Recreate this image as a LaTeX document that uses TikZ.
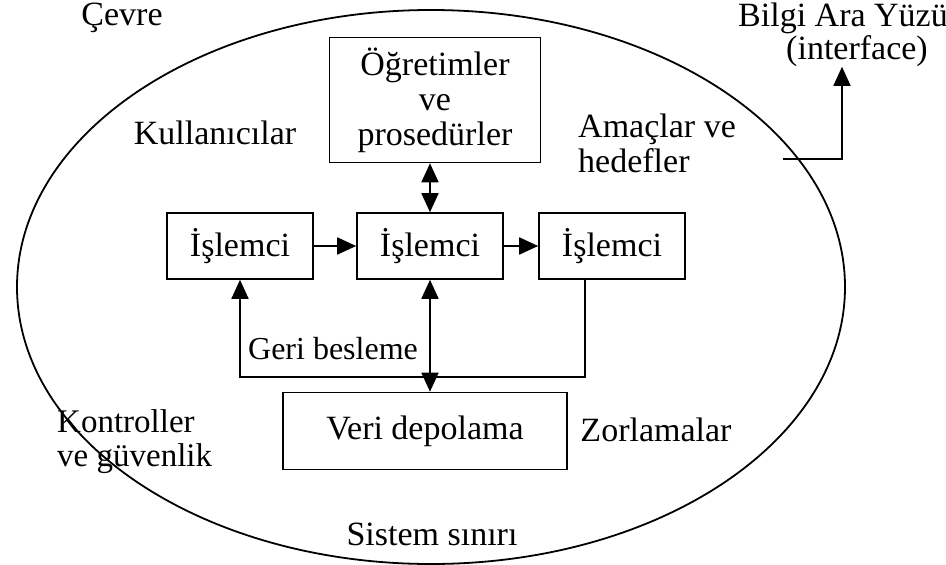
\documentclass[tikz,border=0pt]{standalone}
\usepackage{fontspec}
\setmainfont{Liberation Serif}
\usetikzlibrary{arrows.meta}
\begin{document}
\begin{tikzpicture}[x=1pt,y=-1pt,
  every node/.style={font=\fontsize{34}{35}\selectfont, inner sep=0pt},
  box/.style={draw, line width=1.6pt},
  lbl/.style={align=left},
  conn/.style={line width=1.8pt},
  tip/.style={-{Triangle[length=19pt,width=17pt]}},
  dtip/.style={{Triangle[length=19pt,width=17pt]}-{Triangle[length=19pt,width=17pt]}}]
\useasboundingbox (0,0) rectangle (946,565);

% system boundary
\draw[line width=1.8pt] (431,287) ellipse [x radius=414, y radius=277];

% free labels
\node (cevre) at (122,18) {Çevre};
\node (bilgi) at (843,18) {Bilgi Ara Yüzü};
\node (iface) at (857,51) {(interface)};
\node (kull) at (215,133) {Kullanıcılar};
\node[lbl, anchor=west] (amac) at (578,143) {Amaçlar ve\\hedefler};
\node[font=\fontsize{32}{34}\selectfont] (geri) at (333,349) {Geri besleme};
\node[lbl, anchor=west, font=\fontsize{33}{34}\selectfont] (kont) at (57,442) {Kontroller\\ve güvenlik};
\node (zorl) at (656,430) {Zorlamalar};
\node (sinir) at (432,534) {Sistem sınırı};

% boxes
\node[box, minimum width=211pt, minimum height=125pt, align=center] (ogr) at (435,100)
  {Öğretimler\\ve\\prosedürler};
\node[box, minimum width=146pt, minimum height=66pt] (p1) at (240,246) {İşlemci};
\node[box, minimum width=146pt, minimum height=66pt] (p2) at (430,246) {İşlemci};
\node[box, minimum width=146pt, minimum height=66pt] (p3) at (612,246) {İşlemci};
\node[box, minimum width=284pt, minimum height=77pt] (veri) at (425,431) {Veri depolama};

% connectors
\draw[conn, dtip] (ogr.south -| p2) -- (p2.north);
\draw[conn, tip] (p1.east) -- (p2.west);
\draw[conn, tip] (p2.east) -- (p3.west);
\draw[conn, dtip] (p2.south) -- (p2.south |- veri.north);
\coordinate (fbTop) at (585,279);
\coordinate (fbR) at (585,377);
\coordinate (fbL) at (p1.south |- fbR);
\draw[conn, tip] (fbTop) -- (fbR) -- (fbL) -- (p1.south);

% link from the boundary to the interface
\coordinate (edge) at (783,159);
\coordinate (corner) at (842,159);
\draw[conn, tip] (edge) -- (corner) -- (corner |- iface.south);
\end{tikzpicture}
\end{document}
